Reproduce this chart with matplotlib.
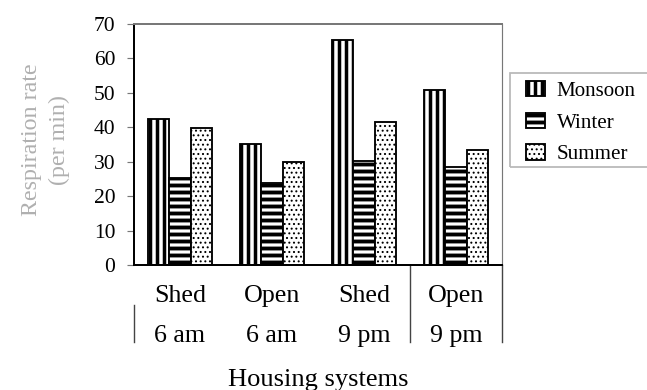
import matplotlib
matplotlib.use("Agg")
import matplotlib.pyplot as plt
import matplotlib.transforms as mtransforms
from matplotlib.patches import Rectangle
import numpy as np

housing = ['Shed', 'Open', 'Shed', 'Open']
times = ['6 am', '6 am', '9 pm', '9 pm']
seasons = ['Monsoon', 'Winter', 'Summer']
monsoon = [42.4, 35.1, 65.3, 50.8]
winter = [25.4, 23.9, 30.3, 28.6]
summer = [39.8, 30.0, 41.4, 33.4]
yticks = [0, 10, 20, 30, 40, 50, 60, 70]

DPI = 84


def hatch_width(patch, lw):
	# hatch line width is picked up from rcParams when the patch draws
	orig = patch.draw

	def draw(renderer):
		with plt.rc_context({'hatch.linewidth': lw}):
			if hasattr(patch, 'set_hatch_linewidth'):
				patch.set_hatch_linewidth(lw)
			orig(renderer)
	patch.draw = draw


def main():
	plt.rcParams['font.family'] = ['Liberation Serif', 'DejaVu Serif']

	fig = plt.figure(figsize=(647 / DPI, 390 / DPI), dpi=DPI)
	ax = fig.add_axes([134 / 647, 125 / 390, 368 / 647, 241 / 390])

	x = np.arange(len(housing))
	w = 0.23
	series = [monsoon, winter, summer]
	hatches = ['||', '--', '...']
	hlw = [3.0, 3.3, 1.0]

	for i in range(3):
		bars = ax.bar(x + (i - 1) * w, series[i], w, color='white',
			edgecolor='black', linewidth=1.6, hatch=hatches[i], label=seasons[i])
		for b in bars:
			hatch_width(b, hlw[i])

	ax.set_xlim(-0.5, 3.5)
	ax.set_ylim(0, 70)
	ax.set_yticks(yticks)
	ax.set_xticks([])
	ax.tick_params(axis='y', length=6, width=1, pad=10, color='#777777', labelsize=18.4)

	ax.spines['left'].set_linewidth(1.7)
	ax.spines['bottom'].set_linewidth(1.7)
	ax.spines['top'].set_color('#777777')
	ax.spines['top'].set_linewidth(1.7)
	ax.spines['right'].set_color('#777777')
	ax.spines['right'].set_linewidth(1.0)

	# two-row category axis under the bars
	trans = mtransforms.blended_transform_factory(ax.transData, ax.transAxes)
	for i in range(len(housing)):
		ax.text(x[i], -0.1535, housing[i], transform=trans, ha='center', va='baseline', fontsize=22.3)
		ax.text(x[i], -0.3195, times[i], transform=trans, ha='center', va='baseline', fontsize=22.3)
	ax.plot([-0.5, -0.5], [-0.166, -0.32], transform=trans, color='#444444', lw=1.2, clip_on=False)
	ax.plot([2.5, 2.5], [0, -0.32], transform=trans, color='#444444', lw=1.2, clip_on=False)
	ax.plot([3.5, 3.5], [0, -0.32], transform=trans, color='#444444', lw=1.2, clip_on=False)

	ax.text(0.5, -0.502, 'Housing systems', transform=ax.transAxes, ha='center', va='baseline', fontsize=22.7)
	ax.text(-0.24, 0.52, 'Respiration rate\n(per min)', transform=ax.transAxes, rotation=90,
		ha='center', va='center', multialignment='center', fontsize=20.6, color='#b0b0b0',
		linespacing=1.4)

	leg = fig.legend(loc='upper left', bbox_to_anchor=(526 / 647, 1 - 81 / 390), frameon=False,
		fontsize=18, borderpad=0, borderaxespad=0, handlelength=0.9, handleheight=0.75,
		handletextpad=0.57, labelspacing=0.55)
	for p, lw in zip(leg.get_patches(), hlw):
		hatch_width(p, lw)
	fig.patches.append(Rectangle((510 / 647, 1 - 167 / 390), 150 / 647, 94 / 390,
		transform=fig.transFigure, facecolor='none', edgecolor='#b8b8b8', linewidth=1.5))

	fig.savefig('out.png', dpi=DPI)


if __name__ == "__main__":
	main()
